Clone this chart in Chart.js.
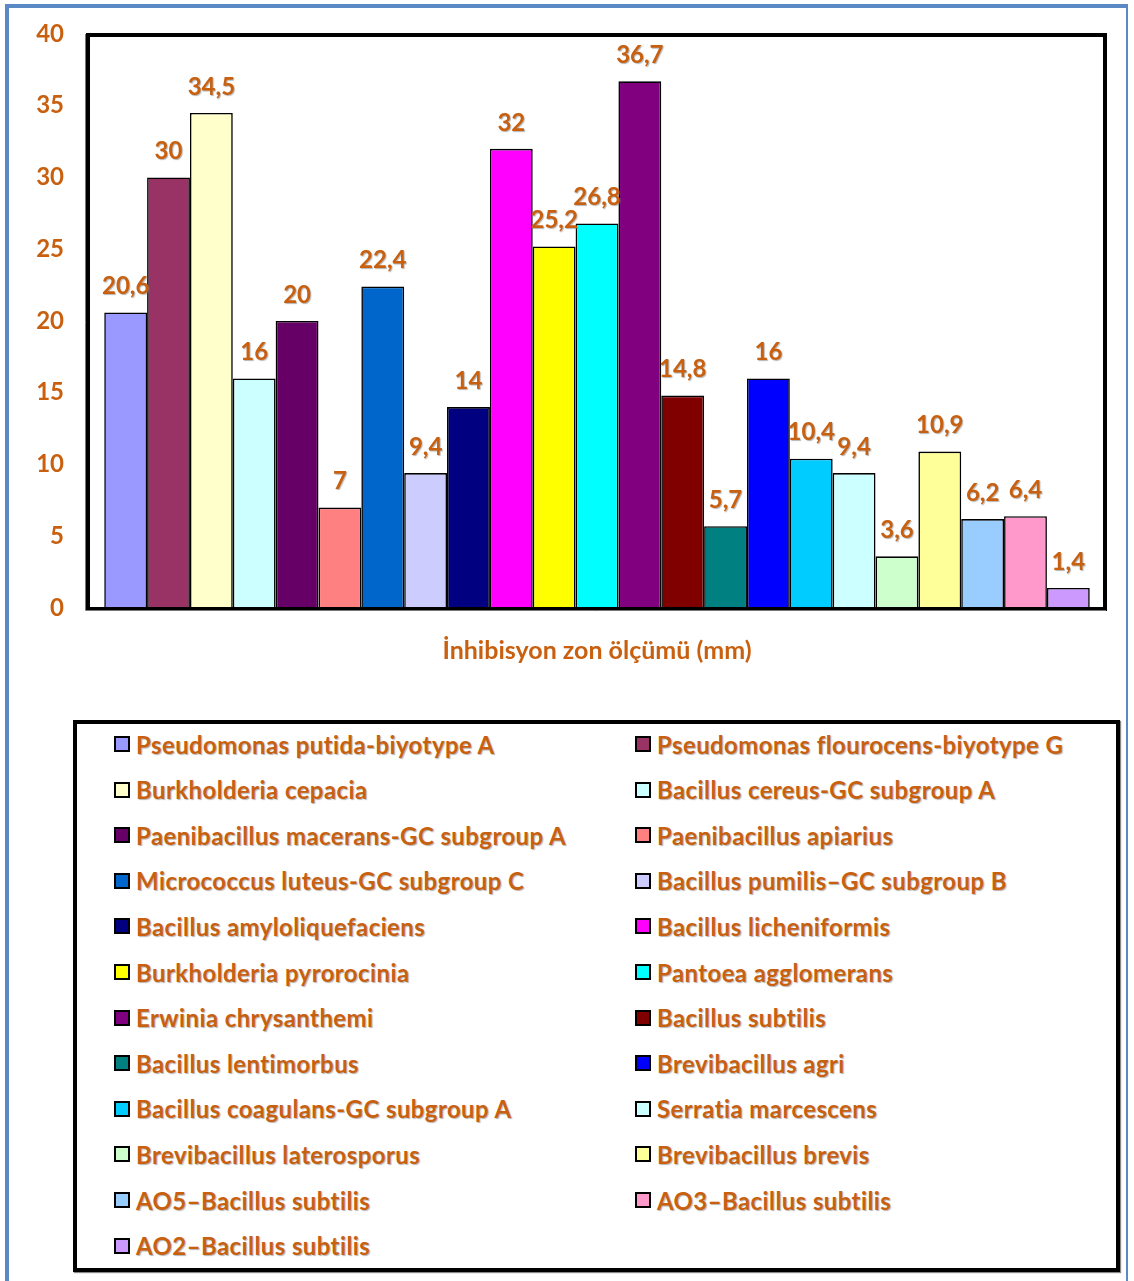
<!DOCTYPE html>
<html>
<head>
<meta charset="utf-8">
<script src="https://cdn.jsdelivr.net/npm/chart.js@4.4.1/dist/chart.umd.min.js"></script>
<style>
  html, body { margin: 0; padding: 0; background: #fff; }
  body { width: 1134px; height: 1281px; position: relative; overflow: hidden; font-family: Lato, "Open Sans", sans-serif; }
  #frame { position: absolute; left: 5px; top: 4px; width: 1123px; height: 1300px; border: 4px solid #5b89c6; border-right-width: 2px; box-sizing: border-box; }
  #chartWrap { position: absolute; left: 0; top: 0; width: 1134px; height: 670px; }
  #legend { position: absolute; left: 73px; top: 720px; width: 1047px; height: 552px; border: 4px solid #000; box-sizing: border-box; background: #fff; box-shadow: 1px 1px 1px #888; }
  .item { position: absolute; display: flex; align-items: center; height: 30px; font-weight: bold; font-size: 24px; letter-spacing: 0.4px; color: #c8600f; text-shadow: 1px 1px 1px rgba(120,120,120,0.55); white-space: nowrap; }
  .sw { width: 12px; height: 12px; border: 2px solid #000; margin-right: 6px; flex: none; }
</style>
</head>
<body>
<div id="frame"></div>
<div id="chartWrap"><canvas id="c" width="1134" height="670"></canvas></div>
<div id="legend"></div>
<script>
const seriesNames = [
  "Pseudomonas putida-biyotype A",
  "Pseudomonas flourocens-biyotype G",
  "Burkholderia cepacia",
  "Bacillus cereus-GC subgroup A",
  "Paenibacillus macerans-GC subgroup A",
  "Paenibacillus apiarius",
  "Micrococcus luteus-GC subgroup C",
  "Bacillus pumilis\u2013GC subgroup B",
  "Bacillus amyloliquefaciens",
  "Bacillus licheniformis",
  "Burkholderia pyrorocinia",
  "Pantoea agglomerans",
  "Erwinia chrysanthemi",
  "Bacillus subtilis",
  "Bacillus lentimorbus",
  "Brevibacillus agri",
  "Bacillus coagulans-GC subgroup A",
  "Serratia marcescens",
  "Brevibacillus laterosporus",
  "Brevibacillus brevis",
  "AO5\u2013Bacillus subtilis",
  "AO3\u2013Bacillus subtilis",
  "AO2\u2013Bacillus subtilis"
];
const seriesValues = [20.6, 30, 34.5, 16, 20, 7, 22.4, 9.4, 14, 32, 25.2, 26.8, 36.7, 14.8, 5.7, 16, 10.4, 9.4, 3.6, 10.9, 6.2, 6.4, 1.4];
const seriesColors = [
  "#9999FF", "#993366", "#FFFFCC", "#CCFFFF", "#660066", "#FF8080",
  "#0066CC", "#CCCCFF", "#000080", "#FF00FF", "#FFFF00", "#00FFFF",
  "#800080", "#800000", "#008080", "#0000FF", "#00CCFF", "#CCFFFF",
  "#CCFFCC", "#FFFF99", "#99CCFF", "#FF99CC", "#CC99FF"
];
const categories = [""];
const yTicks = { min: 0, max: 40, step: 5 };
const axisTitle = "\u0130nhibisyon zon \u00f6l\u00e7\u00fcm\u00fc (mm)";

const textColor = "#c8600f";
const fontFamily = "Lato, 'Open Sans', sans-serif";

const datasets = seriesNames.map((n, i) => ({
  label: n,
  data: [seriesValues[i]],
  backgroundColor: seriesColors[i],
  borderColor: "#000",
  borderWidth: 1.6,
  categoryPercentage: 0.97,
  barPercentage: 1.0
}));

const labelPlugin = {
  id: "valueLabels",
  afterDatasetsDraw(chart) {
    const ctx = chart.ctx;
    ctx.save();
    ctx.font = "bold 24px " + fontFamily;
    ctx.fillStyle = textColor;
    ctx.textAlign = "center";
    ctx.textBaseline = "middle";
    ctx.shadowColor = "rgba(120,120,120,0.55)";
    ctx.shadowOffsetX = 1;
    ctx.shadowOffsetY = 1;
    ctx.shadowBlur = 1;
    chart.data.datasets.forEach((ds, i) => {
      const meta = chart.getDatasetMeta(i);
      meta.data.forEach((bar, j) => {
        const v = ds.data[j];
        ctx.fillText(String(v).replace(".", ","), bar.x, bar.y - 26);
      });
    });
    ctx.restore();
  }
};

const framePlugin = {
  id: "plotFrame",
  afterDatasetsDraw(chart) {
    const a = chart.chartArea;
    const ctx = chart.ctx;
    ctx.save();
    ctx.strokeStyle = "#000";
    ctx.lineWidth = 4;
    ctx.strokeRect(a.left - 1, a.top + 1, a.right - a.left + 1, a.bottom - a.top);
    ctx.strokeStyle = "#777";
    ctx.lineWidth = 1;
    ctx.beginPath();
    ctx.moveTo(a.left - 3.5, a.top);
    ctx.lineTo(a.left - 3.5, a.bottom + 2.5);
    ctx.lineTo(a.right + 1, a.bottom + 2.5);
    ctx.stroke();
    ctx.restore();
  }
};

new Chart(document.getElementById("c"), {
  type: "bar",
  data: { labels: categories, datasets },
  options: {
    responsive: false,
    animation: false,
    devicePixelRatio: 1,
    layout: { padding: { top: 34, right: 29, left: 0, bottom: 0 } },
    plugins: { legend: { display: false }, tooltip: { enabled: false } },
    scales: {
      x: {
        grid: { display: false, drawTicks: false },
        border: { display: false },
        ticks: { display: false },
        title: {
          display: true,
          text: axisTitle,
          color: textColor,
          font: { family: fontFamily, size: 25, weight: "bold" }
        },
        afterFit(s) { s.height = 62; }
      },
      y: {
        min: yTicks.min,
        max: yTicks.max,
        grid: { display: false, drawTicks: false },
        border: { display: false },
        ticks: {
          stepSize: yTicks.step,
          padding: 25,
          color: textColor,
          font: { family: fontFamily, size: 24, weight: "bold" }
        },
        afterFit(s) { s.width = 89; s.paddingTop = 0; s.paddingBottom = 0; }
      }
    }
  },
  plugins: [labelPlugin, framePlugin]
});

// HTML legend built from the series arrays
const legend = document.getElementById("legend");
const rowY0 = 745 - 720 - 4, rowStep = 45.6;
seriesNames.forEach((n, i) => {
  const row = Math.floor(i / 2), col = i % 2;
  const el = document.createElement("div");
  el.className = "item";
  el.style.left = (col === 0 ? 114 : 635) - 73 - 4 + "px";
  el.style.top = (rowY0 + row * rowStep - 16) + "px";
  const sw = document.createElement("span");
  sw.className = "sw";
  sw.style.background = seriesColors[i];
  const tx = document.createElement("span");
  tx.textContent = n;
  el.appendChild(sw);
  el.appendChild(tx);
  legend.appendChild(el);
});
</script>
</body>
</html>
